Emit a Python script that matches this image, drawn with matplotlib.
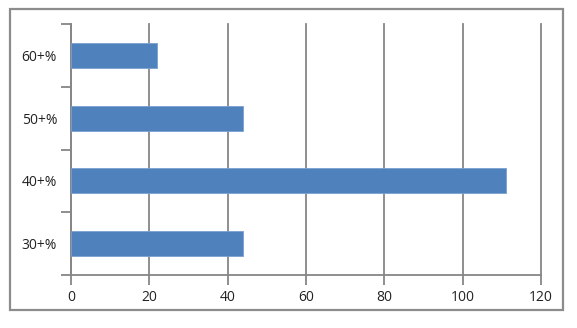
import matplotlib.pyplot as plt
from matplotlib.patches import Rectangle

# =========================
# Data
# =========================
categories = ["30+%", "40+%", "50+%", "60+%"]
values = [44, 111, 44, 22]
x_ticks = [0, 20, 40, 60, 80, 100, 120]

W, H = 577, 328
fig = plt.figure(figsize=(W / 100, H / 100), dpi=100)
plt.rcParams["font.family"] = ["Open Sans", "DejaVu Sans"]

# outer chart frame
fig.patches.append(Rectangle((10 / W, 1 - 310 / H), 553 / W, 301 / H,
                             transform=fig.transFigure, fill=False,
                             edgecolor="#8c8c8c", linewidth=1.6))

ax = fig.add_axes([71 / W, 1 - 275 / H, 470 / W, 251 / H])
pos = range(len(categories))
ax.barh(pos, values, height=0.4, color="#4f81bd", edgecolor="#7aa0d0",
        linewidth=0.6, zorder=3)

ax.set_xlim(0, 120)
ax.set_ylim(-0.5, len(categories) - 0.5)
ax.set_xticks(x_ticks)
ax.set_yticks([p - 0.5 for p in pos] + [len(categories) - 0.5])
ax.set_yticklabels([])
ax.set_yticks(list(pos), minor=True)
ax.set_yticklabels(categories, minor=True)
ax.tick_params(axis="y", which="minor", length=0, pad=10, labelsize=10,
               labelcolor="#222222")
ax.tick_params(axis="y", which="major", length=7, color="#868686", width=1.3)
ax.tick_params(axis="x", length=7, color="#868686", width=1.3, pad=4,
               labelsize=10, labelcolor="#222222")

ax.grid(axis="x", color="#868686", linewidth=1.3, zorder=0)
for line in ax.get_xgridlines():
    line.set_clip_on(False)
for s in ["top", "right"]:
    ax.spines[s].set_visible(False)
for s in ["left", "bottom"]:
    ax.spines[s].set_color("#868686")
    ax.spines[s].set_linewidth(1.3)

fig.savefig("out.png", dpi=100)
